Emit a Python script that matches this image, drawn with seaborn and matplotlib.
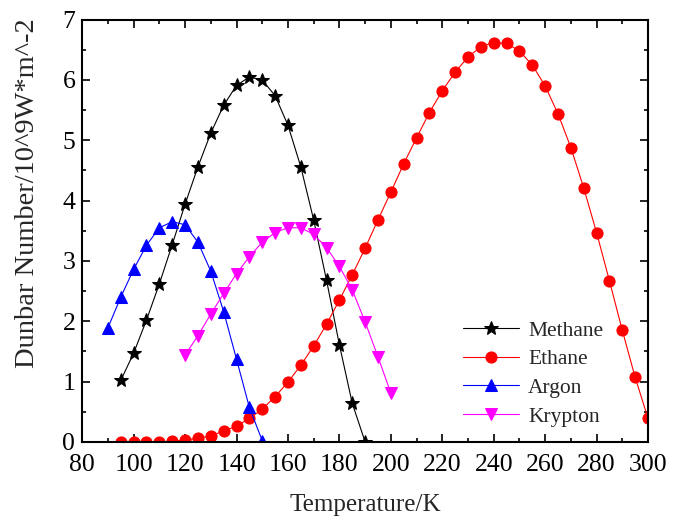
import numpy as np
import matplotlib
matplotlib.use("Agg")
import matplotlib.pyplot as plt
import seaborn as sns
from matplotlib.ticker import MultipleLocator

# temperatures (K)
methane_t = list(range(95, 195, 5))
methane_d = [1.02, 1.47, 2.02, 2.62, 3.27, 3.94, 4.56, 5.12, 5.58, 5.91,
             6.05, 6.00, 5.74, 5.25, 4.56, 3.68, 2.68, 1.61, 0.64, 0.0]

ethane_t = list(range(95, 305, 5))
ethane_d = [0.0, 0.0, 0.0, 0.0, 0.01, 0.03, 0.06, 0.10, 0.18, 0.26,
            0.39, 0.54, 0.75, 0.99, 1.27, 1.59, 1.95, 2.35, 2.77, 3.21,
            3.68, 4.14, 4.61, 5.04, 5.46, 5.82, 6.13, 6.38, 6.55, 6.62,
            6.61, 6.48, 6.25, 5.90, 5.44, 4.88, 4.21, 3.47, 2.67, 1.85,
            1.07, 0.39]

argon_t = list(range(90, 155, 5))
argon_d = [1.89, 2.40, 2.86, 3.26, 3.55, 3.65, 3.60, 3.31, 2.83, 2.16,
           1.37, 0.57, 0.02]

krypton_t = list(range(120, 205, 5))
krypton_d = [1.44, 1.76, 2.12, 2.46, 2.79, 3.07, 3.31, 3.47, 3.55, 3.55,
             3.44, 3.22, 2.91, 2.52, 1.99, 1.41, 0.81]

sns.set_style("ticks")
plt.rcParams['font.family'] = ['Liberation Serif', 'DejaVu Serif']

fig, ax = plt.subplots(figsize=(6.85, 5.18), dpi=100)

series = [
    ("Methane", methane_t, methane_d, "black", "*", 10),
    ("Ethane", ethane_t, ethane_d, "red", "o", 8),
    ("Argon", argon_t, argon_d, "blue", "^", 8),
    ("Krypton", krypton_t, krypton_d, "magenta", "v", 8),
]
for name, t, d, c, m, ms in series:
    sns.lineplot(x=t, y=d, ax=ax, color=c, marker=m, markersize=ms,
                 markeredgecolor=c, linewidth=0.8, label=name)

ax.set_xlim(80, 300)
ax.set_ylim(0, 7)
ax.xaxis.set_major_locator(MultipleLocator(20))
ax.xaxis.set_minor_locator(MultipleLocator(10))
ax.yaxis.set_major_locator(MultipleLocator(1))
ax.yaxis.set_minor_locator(MultipleLocator(0.5))
ax.tick_params(which="both", direction="in", top=True, right=True,
               labeltop=False, labelright=False, width=1.2, colors="black")
ax.tick_params(which="major", length=6, labelsize=18.5)
ax.tick_params(axis="x", which="major", pad=9)
ax.tick_params(axis="y", which="major", pad=5)
ax.tick_params(which="minor", length=3)
for s in ax.spines.values():
    s.set_linewidth(1.5)
    s.set_color("black")

ax.set_xlabel("Temperature/K", fontsize=18, labelpad=13)
ax.set_ylabel("Dunbar Number/10^9W*m^-2", fontsize=20.5)
ax.yaxis.set_label_coords(-0.074, 0.59)

leg = ax.legend(loc="lower right", frameon=False, fontsize=15.5,
                bbox_to_anchor=(0.955, -0.01), handlelength=2.6,
                handletextpad=0.4, labelspacing=0.4)

plt.subplots_adjust(left=0.12, right=0.946, top=0.962, bottom=0.147)
plt.savefig("out.png", dpi=100)
